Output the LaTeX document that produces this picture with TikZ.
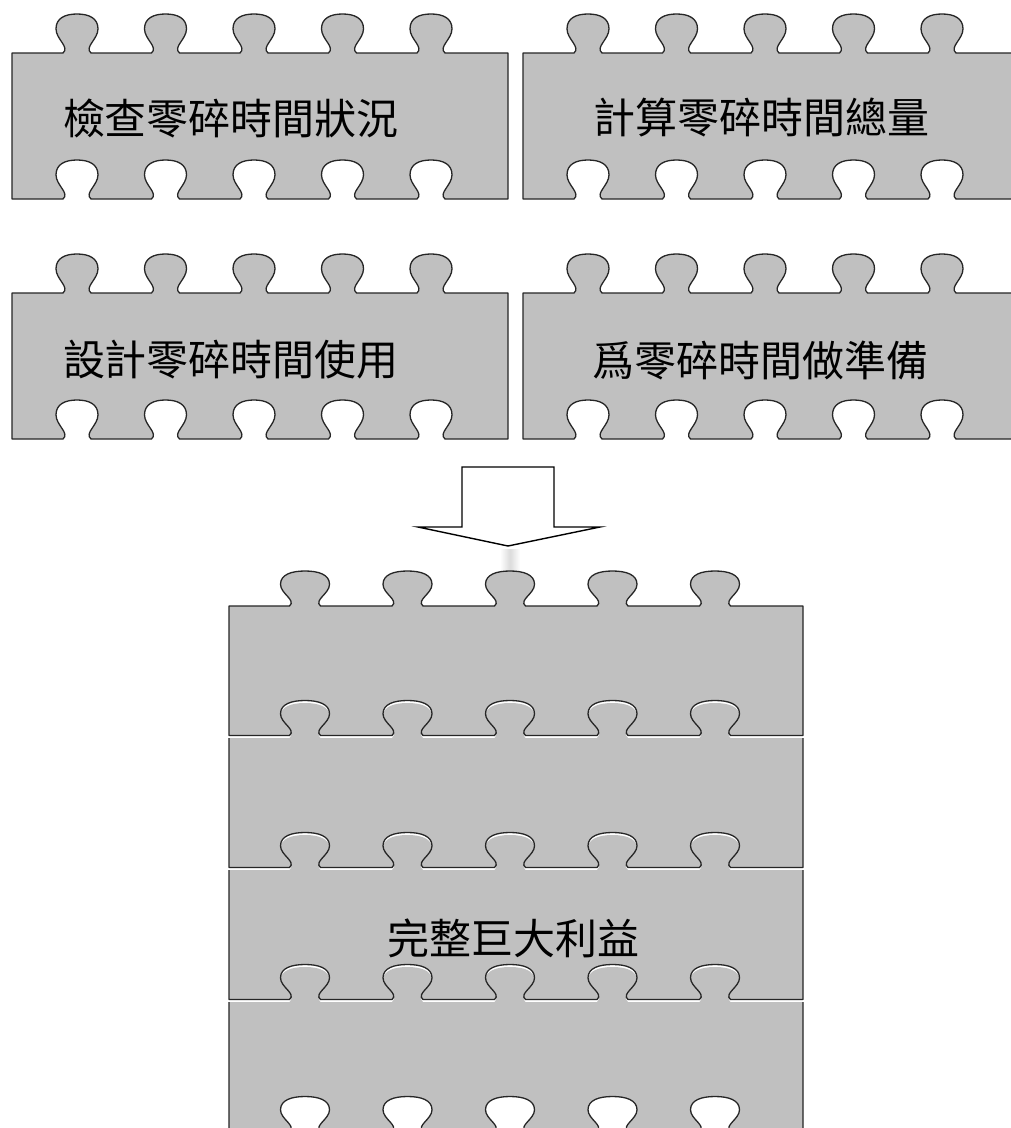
\documentclass[tikz,border=0pt]{standalone}
\usepackage{fontspec}
\newfontfamily\cjk{Noto Sans CJK TC}
\definecolor{piecegray}{RGB}{192,192,192}
% knob: #1 cx, #2 base y, #3 direction (1 = left to right, -1 = right to left), #4 neck half width, #5 bulb half width, #6 height
\newcommand\knob[6]{-- ({#1-(#3)*(#4)},{#2}) .. controls ({#1-(#3)*(#4-7)},{#2-6}) and ({#1-(#3)*(#5)},{#2-0.35*(#6)}) .. ({#1-(#3)*(#5)},{#2-0.62*(#6)}) .. controls ({#1-(#3)*(#5)},{#2-0.9*(#6)}) and ({#1-(#3)*0.55*(#5)},{#2-(#6)}) .. ({#1},{#2-(#6)}) .. controls ({#1+(#3)*0.55*(#5)},{#2-(#6)}) and ({#1+(#3)*(#5)},{#2-0.9*(#6)}) .. ({#1+(#3)*(#5)},{#2-0.62*(#6)}) .. controls ({#1+(#3)*(#5)},{#2-0.35*(#6)}) and ({#1+(#3)*(#4-7)},{#2-6}) .. ({#1+(#3)*(#4)},{#2})}
% a piece of the two upper rows: #1 left, #2 top
\newcommand\rowpiece[2]{%
  \filldraw[piece] (#1,#2)
    \knob{#1+65}{#2}{1}{14}{21}{39}
    \knob{#1+153.5}{#2}{1}{14}{21}{39}
    \knob{#1+242}{#2}{1}{14}{21}{39}
    \knob{#1+330.5}{#2}{1}{14}{21}{39}
    \knob{#1+419}{#2}{1}{14}{21}{39}
    -- (#1+496,#2) -- (#1+496,#2+146)
    \knob{#1+419}{#2+146}{-1}{14}{21}{39}
    \knob{#1+330.5}{#2+146}{-1}{14}{21}{39}
    \knob{#1+242}{#2+146}{-1}{14}{21}{39}
    \knob{#1+153.5}{#2+146}{-1}{14}{21}{39}
    \knob{#1+65}{#2+146}{-1}{14}{21}{39}
    -- (#1,#2+146) -- cycle;}
% stack knobs
\newcommand\stknobs[1]{\knob{305}{#1}{1}{15.5}{24.5}{35} \knob{407.5}{#1}{1}{15.5}{24.5}{35} \knob{510}{#1}{1}{15.5}{24.5}{35} \knob{612.5}{#1}{1}{15.5}{24.5}{35} \knob{715}{#1}{1}{15.5}{24.5}{35}}
\newcommand\stholes[1]{\knob{715}{#1}{-1}{15.5}{24.5}{35} \knob{612.5}{#1}{-1}{15.5}{24.5}{35} \knob{510}{#1}{-1}{15.5}{24.5}{35} \knob{407.5}{#1}{-1}{15.5}{24.5}{35} \knob{305}{#1}{-1}{15.5}{24.5}{35}}
% lower stack piece: #1 top, #2 bottom
\newcommand\lowpiece[2]{%
  \fill[piecegray] (229,#1) \stknobs{#1} -- (803,#1) -- (803,#2) \stholes{#2} -- (229,#2) -- cycle;
  \draw[outline] (803,#1) -- (803,#2) \stholes{#2} -- (229,#2) -- (229,#1);}
\begin{document}
\begin{tikzpicture}[x=1pt,y=-1pt,
  outline/.style={draw=black!85,line width=1.3pt,line join=round},
  piece/.style={fill=piecegray,outline},
  lbl/.style={font=\cjk\fontsize{42}{50}\selectfont,inner sep=0pt,text=black}]
\useasboundingbox (0,0) rectangle (1011,1128);
\clip (0,0) rectangle (1011,1128);
\fill[white] (0,0) rectangle (1011,1128);
% upper rows
\rowpiece{12}{53}
\rowpiece{523}{53}
\rowpiece{12}{293}
\rowpiece{523}{293}
\node[lbl] (t1) at (231,118) {檢查零碎時間狀況};
\node[lbl] (t2) at (761,118) {計算零碎時間總量};
\node[lbl] (t3) at (231,360) {設計零碎時間使用};
\node[lbl] (t4) at (760,360) {爲零碎時間做準備};
% arrow
\shade[left color=white,right color=white,middle color=black!14] (500,549) rectangle (520,572);
\draw[line width=1.4pt,fill=white,line join=miter] (462,467) -- (554,467) -- (554,527) -- (600,527) -- (508,546) -- (418,527) -- (462,527) -- cycle;
% stack
\lowpiece{1002}{1131.5}
\lowpiece{870}{999.5}
\lowpiece{738}{867.5}
\filldraw[piece] (229,606) \stknobs{606} -- (803,606) -- (803,735.5) \stholes{735.5} -- (229,735.5) -- cycle;
\node[lbl] (t5) at (513,938) {完整巨大利益};
\end{tikzpicture}
\end{document}
